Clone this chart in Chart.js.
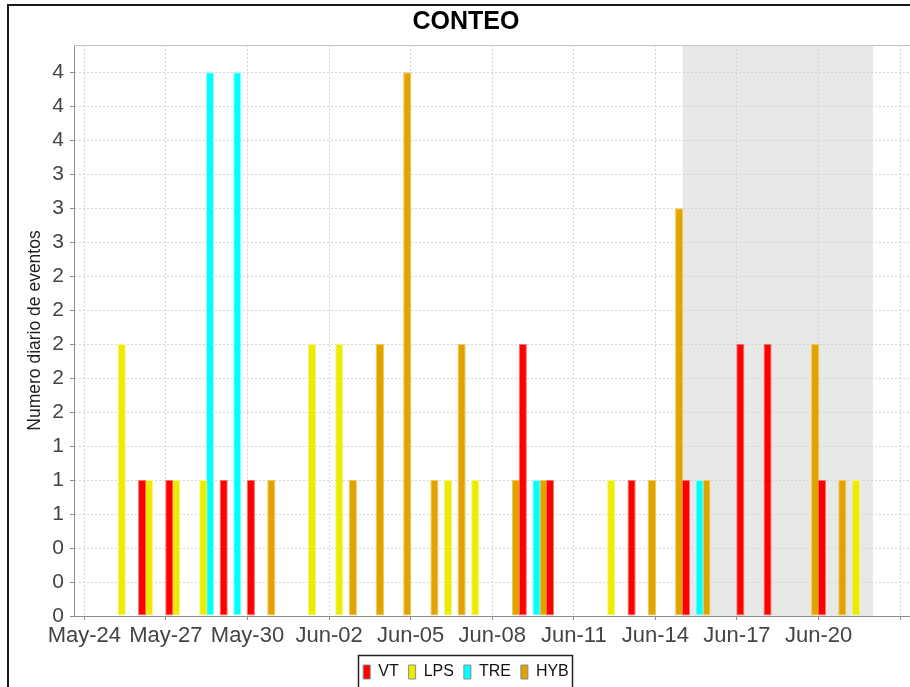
<!DOCTYPE html>
<html>
<head>
<meta charset="utf-8">
<script src="https://cdn.jsdelivr.net/npm/chart.js@4/dist/chart.umd.min.js"></script>
<style>
html, body { margin: 0; padding: 0; background: #fff; overflow: hidden; width: 910px; height: 687px; }
#frame { position: absolute; left: 7px; top: 4px; width: 1000px; height: 1000px; border: 2px solid #1a1a1a; box-sizing: border-box; }
#wrap { position: absolute; left: 0; top: 0; width: 930px; height: 700px; }
</style>
</head>
<body>
<div id="frame"></div>
<div id="wrap"><canvas id="c" width="930" height="700"></canvas></div>
<script>
// ---- data ----
const days = ['May-24','May-25','May-26','May-27','May-28','May-29','May-30','May-31',
  'Jun-01','Jun-02','Jun-03','Jun-04','Jun-05','Jun-06','Jun-07','Jun-08','Jun-09','Jun-10',
  'Jun-11','Jun-12','Jun-13','Jun-14','Jun-15','Jun-16','Jun-17','Jun-18','Jun-19','Jun-20','Jun-21'];
const seriesNames = ['VT', 'LPS', 'TRE', 'HYB'];
const vt  = [null,null,1,1,null,1,1,null,null,null,null,null,null,null,null,null,2,1,null,null,1,null,1,null,2,2,null,1,null];
const lps = [null,2,1,1,1,null,null,null,2,2,null,null,null,1,1,null,null,null,null,1,null,null,null,null,null,null,null,null,1];
const tre = [null,null,null,null,4,4,null,null,null,null,null,null,null,null,null,null,1,null,null,null,null,null,1,null,null,null,null,null,null];
const hyb = [null,null,null,null,null,null,1,null,null,1,2,4,1,2,null,1,1,null,null,null,1,3,1,null,null,null,2,1,null];
const xTickDays = [0,3,6,9,12,15,18,21,24,27,30];
const xTickLabels = ['May-24','May-27','May-30','Jun-02','Jun-05','Jun-08','Jun-11','Jun-14','Jun-17','Jun-20',''];
const yTickValues = [0,0.25,0.5,0.75,1,1.25,1.5,1.75,2,2.25,2.5,2.75,3,3.25,3.5,3.75,4];
const yTickLabels = ['0','0','0','1','1','1','2','2','2','2','2','3','3','3','4','4','4'];
const shadeFromDay = 'Jun-15';
const shadeToDay = 'Jun-21';

// ---- styles ----
const fills   = ['#ff0000', '#ecec00', '#00ffff', '#e2a200'];
const borders = ['#ff7070', '#f6f680', '#a0ffff', '#f2c850'];

Chart.defaults.font.family = "'Liberation Sans', Arial, sans-serif";

const seriesData = [vt, lps, tre, hyb];
const datasets = seriesData.map((arr, k) => ({
  label: seriesNames[k],
  data: arr.map((v, i) => ({ x: i + 0.5, y: v })),
  backgroundColor: fills[k],
  borderColor: borders[k],
  borderWidth: 1,
  borderSkipped: false,
  categoryPercentage: 1.0,
  barPercentage: 1.2
}));

const decorPlugin = {
  id: 'decor',
  beforeDraw(chart) {
    const { ctx, chartArea: a, scales: { x } } = chart;
    const s = days.indexOf(shadeFromDay), e = days.indexOf(shadeToDay) + 1;
    const x0 = x.getPixelForValue(s), x1 = x.getPixelForValue(e);
    ctx.save();
    ctx.fillStyle = '#e6e9e6';
    ctx.fillRect(x0, a.top, x1 - x0, a.bottom - a.top);
    ctx.restore();
  },
  beforeDatasetsDraw(chart) {
    const { ctx, chartArea: a } = chart;
    ctx.save();
    ctx.strokeStyle = '#c4c4c4';
    ctx.lineWidth = 1;
    ctx.beginPath();
    ctx.moveTo(a.left, a.top + 0.5);
    ctx.lineTo(a.right, a.top + 0.5);
    ctx.stroke();
    ctx.restore();
  },
  afterDraw(chart) {
    const lg = chart.legend;
    const hb = lg.legendHitBoxes;
    if (!hb || !hb.length) return;
    const first = hb[0], last = hb[hb.length - 1];
    const { ctx } = chart;
    const x0 = first.left - 5, x1 = last.left + last.width + 3;
    const yc = first.top + first.height / 2;
    ctx.save();
    ctx.strokeStyle = '#222';
    ctx.lineWidth = 1.5;
    ctx.strokeRect(Math.round(x0) + 0.5, Math.round(yc - 17) + 0.5, Math.round(x1 - x0), 36);
    ctx.restore();
  }
};

new Chart(document.getElementById('c'), {
  type: 'bar',
  data: { datasets },
  plugins: [decorPlugin],
  options: {
    responsive: false,
    animation: false,
    layout: { padding: { left: 21, right: 19, top: 0, bottom: 10 } },
    plugins: {
      tooltip: { enabled: false },
      title: {
        display: true,
        text: 'CONTEO',
        color: '#000',
        font: { size: 25, weight: 'bold' },
        padding: { top: 7, bottom: 8 }
      },
      legend: {
        display: true,
        position: 'bottom',
        labels: {
          boxWidth: 7,
          boxHeight: 14,
          padding: 10,
          color: '#111',
          font: { size: 16 },
          generateLabels(chart) {
            return Chart.defaults.plugins.legend.labels.generateLabels(chart).map(it => {
              it.strokeStyle = '#8a8a8a';
              it.lineWidth = 1;
              return it;
            });
          }
        }
      }
    },
    scales: {
      x: {
        type: 'linear',
        bounds: 'data',
        min: -0.38,
        max: 30.4,
        offset: false,
        afterBuildTicks(scale) { scale.ticks = xTickDays.map(v => ({ value: v })); },
        afterFit(scale) { scale.height = 38; },
        ticks: {
          autoSkip: false,
          maxRotation: 0,
          minRotation: 0,
          padding: 3,
          color: '#444',
          font: { size: 22 },
          callback(value) {
            const i = xTickDays.indexOf(value);
            return i >= 0 ? xTickLabels[i] : '';
          }
        },
        grid: {
          offset: false,
          color: '#d6d6d6',
          lineWidth: 1,
          drawTicks: true,
          tickLength: 4,
          tickColor: '#8c8c8c',
          tickWidth: 1
        },
        border: { display: true, color: '#8c8c8c', width: 1, dash: [2, 2] }
      },
      y: {
        type: 'linear',
        bounds: 'data',
        min: 0,
        max: 4.2,
        afterBuildTicks(scale) { scale.ticks = yTickValues.map(v => ({ value: v })); },
        afterFit(scale) { scale.width = 53; },
        ticks: {
          padding: 6,
          color: '#444',
          font: { size: 21 },
          callback(value) {
            const i = yTickValues.indexOf(value);
            return i >= 0 ? yTickLabels[i] : '';
          }
        },
        title: {
          display: true,
          text: 'Numero diario de eventos',
          color: '#222',
          font: { size: 17.5 },
          padding: { top: 3.5, bottom: 0 }
        },
        grid: {
          color: '#d6d6d6',
          lineWidth: 1,
          drawTicks: true,
          tickLength: 4,
          tickColor: '#8c8c8c',
          tickWidth: 1
        },
        border: { display: true, color: '#8c8c8c', width: 1, dash: [2, 2] }
      }
    }
  }
});
</script>
</body>
</html>
